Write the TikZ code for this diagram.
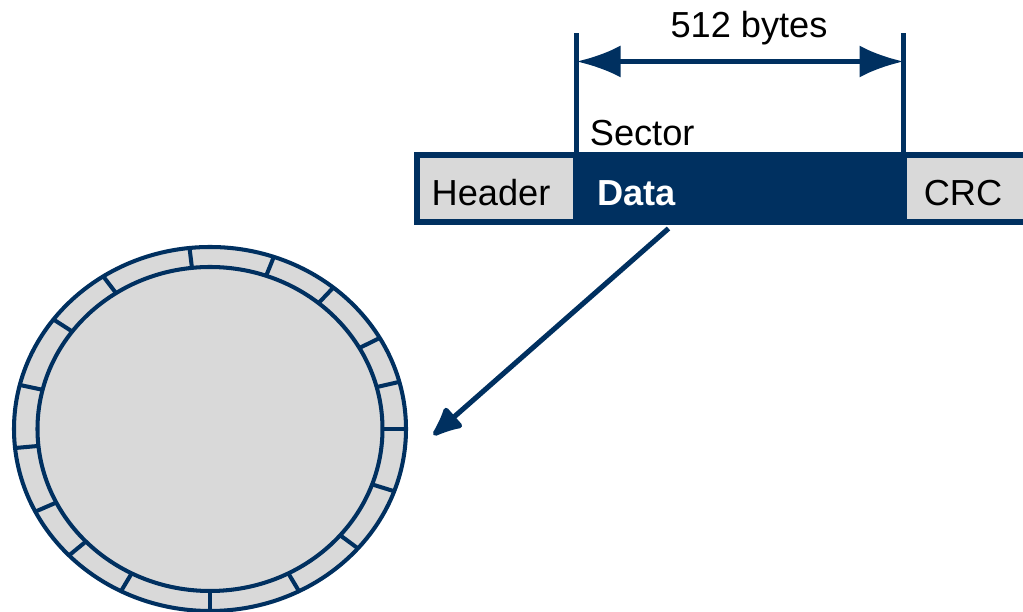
\documentclass[tikz,border=0pt]{standalone}
\usepackage{fontspec}
\setmainfont{Liberation Sans}
\usetikzlibrary{arrows.meta}
\definecolor{navy}{HTML}{003060}
\definecolor{lgray}{HTML}{D9D9D9}
\tikzset{
	lbl/.style={anchor=base,inner sep=0pt,font=\fontsize{20.6}{24}\selectfont},
	navyline/.style={navy,line width=2.3pt},
	dimline/.style={navy,line width=2.85pt}
}
\begin{document}
\begin{tikzpicture}
					\useasboundingbox (0,0) rectangle (20.46,12.24);
					% disque
					\draw[navyline,fill=lgray] (4.2,3.66) ellipse (3.92 and 3.64);
					\draw[navyline] (4.2,3.66) ellipse (3.45 and 3.24);
					\foreach \a in {96,71,51,30,15,0,-20,-41,-63,-90,-117,-136,-153,-174,166,143,123}
						\draw[navyline] ({4.2+3.45*cos(\a)},{3.66+3.24*sin(\a)}) -- ({4.2+3.92*cos(\a)},{3.66+3.64*sin(\a)});
					% secteur
					\draw[navy,line width=3.4pt,fill=lgray] (8.34,7.8) rectangle (20.8,9.134);
					\fill[navy] (11.46,7.74) rectangle (18.14,9.19);
					\node[lbl] (header) at (9.82,8.13) {Header};
					\node[lbl,text=white,font=\fontsize{20.6}{24}\selectfont\bfseries] (data) at (12.73,8.13) {Data};
					\node[lbl] (crc) at (19.26,8.13) {CRC};
					\node[lbl,anchor=base west] (sector) at (11.79,9.32) {Sector};
					% cote
					\draw[dimline] (11.53,9.19) -- (11.53,11.58);
					\draw[dimline] (18.07,9.19) -- (18.07,11.58);
					\coordinate (dimL) at (11.53,11.01);
					\coordinate (dimR) at (18.07,11.01);
					\draw[dimline,{Latex[length=0.88cm,width=0.64cm]}-{Latex[length=0.88cm,width=0.64cm]}] (dimL) -- (dimR);
					\node[lbl] (size) at (14.98,11.48) {512 bytes};
					% fleche
					\coordinate (datafoot) at (13.37,7.67);
					\coordinate (disk) at (8.67,3.54);
					\draw[navy,line width=2.9pt,-{Latex[length=0.7cm,width=0.6cm,round]}] (datafoot) -- (disk);
				\end{tikzpicture}
\end{document}
